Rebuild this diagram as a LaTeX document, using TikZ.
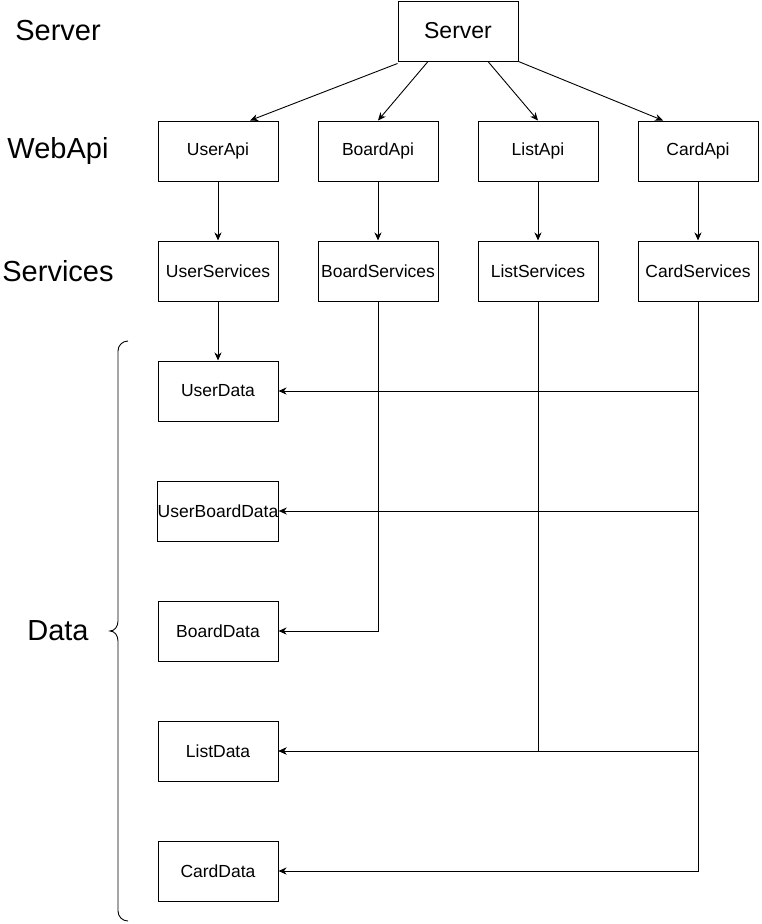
\documentclass[tikz,border=0pt]{standalone}
\usepackage{fontspec}
\setmainfont{Liberation Sans}
\usetikzlibrary{arrows.meta}
\tikzset{%
box/.style={draw,line width=1pt,minimum width=120pt,minimum height=60pt,inner sep=0pt,font=\fontsize{17.5}{20}\selectfont},
layer/.style={font=\fontsize{29}{32}\selectfont},
link/.style={-{Stealth[length=8pt,width=7pt,inset=2.5pt]},line width=0.9pt},
}
\begin{document}
\begin{tikzpicture}[x=1pt,y=-1pt]
    \useasboundingbox (0,0) rectangle (761,924);
    % layers
    \node[layer] (lserver) at (58,31) {Server};
    \node[layer] (lweb) at (58,151) {WebApi};
    \node[layer] (lsrv) at (58,271) {Services};
    \node[layer] (ldata) at (58,631) {Data};
    \draw[line width=0.9pt] (128,341) to[out=180,in=90] (118,351) -- (118,621)
        to[out=-90,in=0] (110,631) to[out=0,in=90] (118,641) -- (118,911)
        to[out=-90,in=180] (128,921);
    % boxes
    \node[box,font=\fontsize{23}{26}\selectfont] (server) at (458,31) {Server};
    \foreach \n/\x in {User/218,Board/378,List/538,Card/698}{
        \node[box] (\n Api) at (\x,151) {\n Api};
        \node[box] (\n Services) at (\x,271) {\n Services};
        \draw[link] (\n Api) -- (\n Services);
    }
    \node[box] (UserData) at (218,391) {UserData};
    \node[box] (UserBoardData) at (218,511) {UserBoardData};
    \node[box] (BoardData) at (218,631) {BoardData};
    \node[box] (ListData) at (218,751) {ListData};
    \node[box] (CardData) at (218,871) {CardData};
    % server to api
    \draw[link] ([yshift=-2pt]server.south west) -- ([xshift=32pt]UserApi.north);
    \draw[link] ([xshift=-30pt]server.south) -- (BoardApi.north);
    \draw[link] ([xshift=30pt]server.south) -- (ListApi.north);
    \draw[link] (server.south east) -- ([xshift=-35pt]CardApi.north);
    % services to data
    \draw[link] (UserServices) -- (UserData);
    \draw[link] (BoardServices.south) |- (BoardData.east);
    \draw[link] (ListServices.south) |- (ListData.east);
    \draw[link] (CardServices.south) |- (CardData.east);
    \foreach \d in {UserData,UserBoardData,ListData}
        \draw[link] (CardServices.south |- \d.east) -- (\d.east);
\end{tikzpicture}
\end{document}
